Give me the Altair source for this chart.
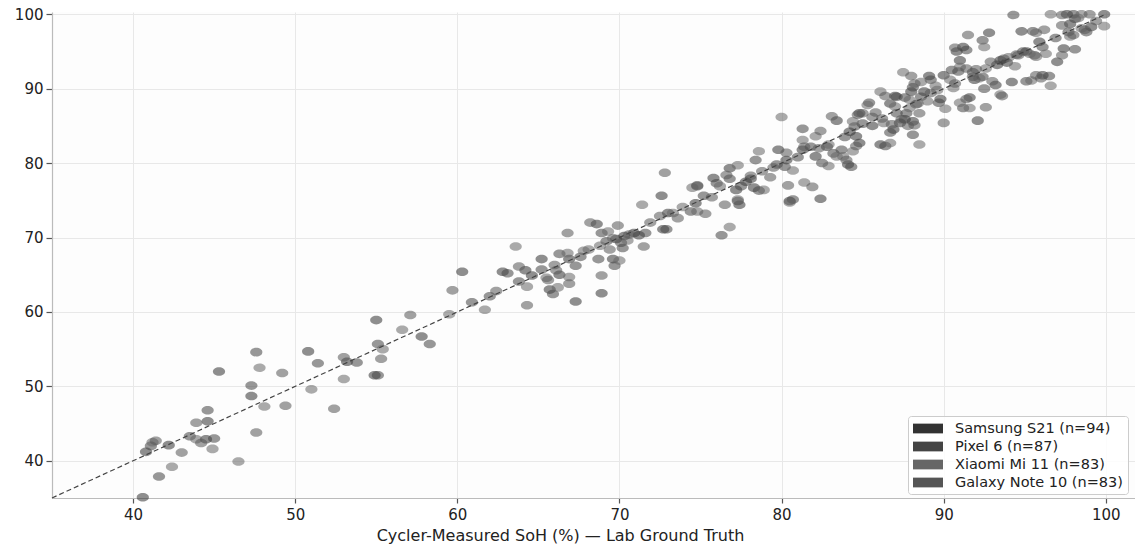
import altair as alt
import pandas as pd

devices = ["Samsung S21 (n=94)", "Pixel 6 (n=87)", "Xiaomi Mi 11 (n=83)", "Galaxy Note 10 (n=83)"]
device_colors = ["#333333", "#444444", "#666666", "#555555"]

# [lab ground truth SoH, cycler-measured SoH]
samsung_s21 = [
    [40.6, 35.1], [40.8, 41.2], [42.2, 42.1], [44.5, 42.9], [44.6, 45.3], [47.3, 48.7], [45.3, 52.0], [50.8, 54.7],
    [53.2, 53.3], [55.0, 58.9], [54.9, 51.5], [57.8, 56.7], [60.3, 65.4], [62.8, 65.4], [64.2, 65.6], [65.2, 67.1],
    [65.7, 63.0], [66.3, 65.0], [66.9, 67.1], [67.3, 61.4], [68.6, 71.8], [68.9, 62.5], [69.6, 67.1], [69.8, 69.8],
    [70.9, 70.6], [71.2, 70.3], [72.7, 71.1], [73.0, 73.3], [74.7, 74.6], [77.4, 74.4], [72.6, 75.6], [75.8, 78.0],
    [76.8, 79.3], [77.2, 76.4], [78.1, 77.9], [78.3, 76.7], [79.8, 81.8], [80.3, 80.4], [80.5, 74.9], [82.4, 75.2],
    [81.3, 81.8], [82.1, 80.9], [82.8, 82.2], [83.4, 85.7], [84.1, 79.8], [84.6, 83.6], [84.8, 86.7], [86.1, 82.5],
    [84.8, 82.7], [86.7, 88.0], [89.1, 91.7], [88.0, 89.6], [88.8, 89.6], [88.1, 85.6], [87.6, 85.9], [87.3, 85.4],
    [86.9, 84.5], [87.0, 89.0], [89.8, 88.6], [90.0, 91.8], [91.0, 93.8], [90.8, 95.0], [91.6, 88.8], [91.9, 91.2],
    [93.5, 93.8], [95.1, 95.0], [93.2, 90.5], [94.2, 90.9], [92.1, 85.7], [97.6, 100.0], [99.9, 100.0], [97.8, 98.7],
    [99.1, 98.3], [94.8, 97.7], [95.9, 96.3], [97.4, 95.4], [92.8, 97.5], [91.2, 95.6], [93.3, 93.2], [96.1, 91.8],
    [97.0, 93.6], [85.6, 85.0], [77.8, 77.5], [70.3, 70.2], [64.6, 64.9], [93.9, 93.5], [84.2, 84.2],
]
pixel_6 = [
    [41.6, 37.9], [41.1, 42.0], [43.5, 43.3], [45.0, 43.0], [44.6, 46.8], [47.3, 50.1], [47.6, 54.6], [51.4, 53.1],
    [53.8, 53.2], [55.1, 55.7], [55.1, 51.5], [58.3, 55.7], [60.9, 61.3], [63.1, 65.2], [63.8, 64.1], [65.2, 65.7],
    [65.9, 62.4], [66.3, 67.8], [67.3, 66.2], [67.6, 67.4], [68.7, 67.1], [68.9, 70.6], [69.7, 66.2], [70.1, 69.3],
    [70.2, 68.6], [71.6, 70.6], [72.9, 71.1], [74.4, 73.5], [76.3, 70.3], [77.3, 74.9], [74.8, 76.9], [76.0, 77.3],
    [76.8, 77.9], [77.5, 76.9], [78.4, 80.4], [78.6, 76.3], [79.7, 79.8], [80.2, 79.5], [80.7, 75.1], [81.3, 84.6],
    [81.8, 82.2], [82.5, 80.0], [83.2, 81.3], [83.7, 81.8], [84.3, 79.5], [84.5, 84.9], [85.0, 85.3], [86.4, 82.3],
    [85.4, 88.1], [87.1, 88.9], [89.2, 91.2], [88.1, 90.2], [88.6, 88.9], [88.1, 83.8], [87.7, 86.7], [87.1, 86.7],
    [86.7, 84.1], [87.6, 88.8], [89.7, 88.1], [90.5, 92.5], [90.9, 92.3], [91.4, 95.2], [91.2, 87.4], [92.4, 91.6],
    [93.7, 94.0], [95.6, 94.5], [92.5, 90.0], [95.1, 91.0], [94.3, 99.9], [98.0, 100.0], [98.1, 99.4], [97.7, 97.6],
    [98.8, 97.6], [95.5, 97.7], [96.1, 95.6], [98.1, 95.3], [92.4, 96.5], [94.9, 95.0], [91.8, 92.2], [96.5, 91.7],
    [88.3, 87.9], [83.9, 83.5], [75.2, 75.6], [69.2, 69.5], [62.0, 62.1], [96.9, 96.8], [81.0, 80.8],
]
xiaomi_mi11 = [
    [42.4, 39.2], [41.2, 42.5], [43.9, 42.9], [44.9, 41.6], [46.5, 39.9], [48.1, 47.3], [47.8, 52.5], [51.0, 49.6],
    [53.0, 51.0], [55.4, 55.0], [56.6, 57.6], [59.5, 59.7], [61.7, 60.3], [63.6, 68.8], [64.3, 63.4], [65.5, 64.6],
    [66.2, 63.3], [66.8, 67.9], [66.9, 64.7], [68.1, 68.4], [68.8, 68.9], [69.3, 70.8], [70.0, 66.9], [70.5, 69.6],
    [69.6, 69.9], [71.4, 74.4], [73.3, 73.3], [74.8, 73.5], [76.8, 71.4], [80.5, 74.7], [74.5, 76.7], [76.2, 76.9],
    [77.3, 79.7], [77.3, 75.1], [78.6, 81.6], [78.9, 76.4], [80.0, 86.2], [80.7, 79.0], [81.4, 77.4], [81.3, 83.1],
    [82.1, 83.6], [82.9, 79.6], [83.4, 80.9], [83.8, 80.9], [84.4, 81.6], [84.4, 85.6], [85.3, 87.8], [86.7, 82.7],
    [86.1, 89.6], [87.5, 92.2], [88.6, 90.9], [89.6, 89.8], [88.4, 88.0], [88.5, 82.5], [87.9, 87.4], [87.0, 87.6],
    [86.3, 85.4], [87.9, 88.5], [90.1, 87.3], [91.0, 92.9], [90.4, 91.2], [91.0, 88.1], [91.6, 87.4], [92.6, 92.7],
    [94.0, 94.2], [94.4, 93.0], [93.5, 89.2], [95.4, 91.1], [96.6, 100.0], [98.5, 100.0], [98.3, 99.5], [98.5, 98.1],
    [99.9, 98.4], [95.7, 97.5], [96.3, 94.7], [95.7, 94.3], [92.5, 95.6], [95.3, 94.7], [92.2, 91.4], [96.6, 90.4],
    [89.0, 88.3], [82.9, 82.5], [73.9, 74.1], [67.8, 68.2], [89.5, 90.4], [97.8, 97.0], [90.6, 90.1],
]
galaxy_note10 = [
    [43.0, 41.1], [41.4, 42.7], [44.2, 42.4], [43.9, 45.1], [47.6, 43.8], [49.4, 47.4], [49.2, 51.8], [53.0, 53.9],
    [52.4, 47.0], [55.3, 53.7], [57.1, 59.6], [59.7, 62.9], [62.4, 62.8], [63.8, 66.1], [64.3, 60.9], [65.6, 64.3],
    [66.1, 65.6], [66.8, 70.6], [66.9, 63.8], [68.2, 72.0], [68.9, 64.9], [69.4, 68.4], [69.9, 71.6], [70.6, 70.4],
    [71.5, 68.8], [72.5, 72.9], [73.6, 72.6], [75.3, 73.2], [76.5, 74.4], [72.8, 78.7], [74.8, 77.0], [76.6, 78.4],
    [75.7, 75.4], [78.1, 78.3], [78.8, 78.9], [79.3, 78.1], [80.3, 81.4], [80.4, 77.0], [81.9, 76.8], [81.4, 82.2],
    [82.4, 84.3], [82.3, 82.0], [83.1, 86.3], [84.0, 80.4], [84.6, 82.3], [84.7, 86.5], [85.8, 86.8], [85.0, 86.7],
    [86.4, 89.0], [88.0, 91.7], [88.2, 90.7], [89.2, 89.4], [88.5, 86.7], [87.8, 85.0], [87.4, 85.9], [86.8, 85.2],
    [85.6, 86.2], [88.2, 85.1], [90.0, 85.4], [91.4, 92.7], [90.7, 90.7], [91.4, 88.6], [91.8, 91.6], [92.9, 93.6],
    [94.5, 94.6], [93.0, 91.0], [93.6, 89.0], [92.6, 87.5], [97.3, 99.9], [99.0, 100.0], [97.3, 98.5], [98.7, 97.9],
    [98.0, 97.2], [96.2, 97.9], [97.3, 94.5], [91.5, 97.2], [90.7, 95.5], [94.6, 94.5], [95.7, 91.8], [96.0, 91.4],
    [86.2, 86.0], [79.5, 79.4], [71.9, 72.0], [66.0, 66.3], [92.0, 92.6], [99.4, 99.1],
]

identity_line = [35, 100]
x_ticks = [40, 50, 60, 70, 80, 90, 100]
y_ticks = [40, 50, 60, 70, 80, 90, 100]
x_title = "Cycler-Measured SoH (%) — Lab Ground Truth"

rows = []
for name, pts in zip(devices, [samsung_s21, pixel_6, xiaomi_mi11, galaxy_note10]):
    for lab, meas in pts:
        rows.append({"device": name, "lab": lab, "measured": meas})
df = pd.DataFrame(rows)
line_df = pd.DataFrame({"lab": identity_line, "measured": identity_line})

FONT = "DejaVu Sans"
ellipse = "M-1,0A1,0.7,0,1,1,1,0A1,0.7,0,1,1,-1,0Z"
legend_rect = "M-1,-0.65L3,-0.65L3,0.65L-1,0.65Z"

x_scale = alt.Scale(domain=[35, 101.8], nice=False, zero=False)
y_scale = alt.Scale(domain=[35, 100.3], nice=False, zero=False)

x_axis = alt.Axis(values=x_ticks, title=x_title, titleX=508, titleY=29, titleAlign="center",
                  titleBaseline="top", titleFontSize=16, titleFontWeight="normal", titleColor="#222222",
                  labelFontSize=15, labelPadding=4, tickSize=5, labelColor="#222222")
y_axis = alt.Axis(values=y_ticks, title=None, labelFontSize=15, labelPadding=3, tickSize=6,
                  labelColor="#222222")

points = alt.Chart(df).mark_point(
    filled=True, shape=ellipse, size=150, opacity=0.55, strokeWidth=0
).encode(
    x=alt.X("lab:Q", scale=x_scale, axis=x_axis),
    y=alt.Y("measured:Q", scale=y_scale, axis=y_axis),
    color=alt.Color("device:N", sort=devices,
                    scale=alt.Scale(domain=devices, range=device_colors),
                    legend=alt.Legend(title=None, orient="none", legendX=856, legendY=404,
                                      symbolType=legend_rect, symbolSize=225, symbolOpacity=1,
                                      symbolStrokeWidth=0, labelFontSize=14.5, labelFont=FONT,
                                      labelColor="#222222", labelOffset=27, rowPadding=3,
                                      labelLimit=400, padding=5,
                                      fillColor="rgba(255,255,255,0.85)",
                                      strokeColor="#cccccc", cornerRadius=3)),
)

line = alt.Chart(line_df).mark_line(color="#444444", strokeDash=[5, 3], strokeWidth=1.2).encode(
    x=alt.X("lab:Q", scale=x_scale),
    y=alt.Y("measured:Q", scale=y_scale),
)

chart = alt.layer(points, line).properties(
    width=1083, height=486,
    autosize=alt.AutoSizeParams(type="none"),
    padding={"left": 52, "top": 12, "right": 0, "bottom": 47},
    background="white",
).configure_view(stroke=None, fill="#fdfdfd").configure_axis(
    labelFont=FONT, titleFont=FONT, gridColor="#e8e8e8", gridWidth=1,
    domainColor="#bbbbbb", domainWidth=1.2, tickColor="#555555", tickWidth=1.2,
)

chart.save("out.html", embed_options={"renderer": "svg", "actions": False})
